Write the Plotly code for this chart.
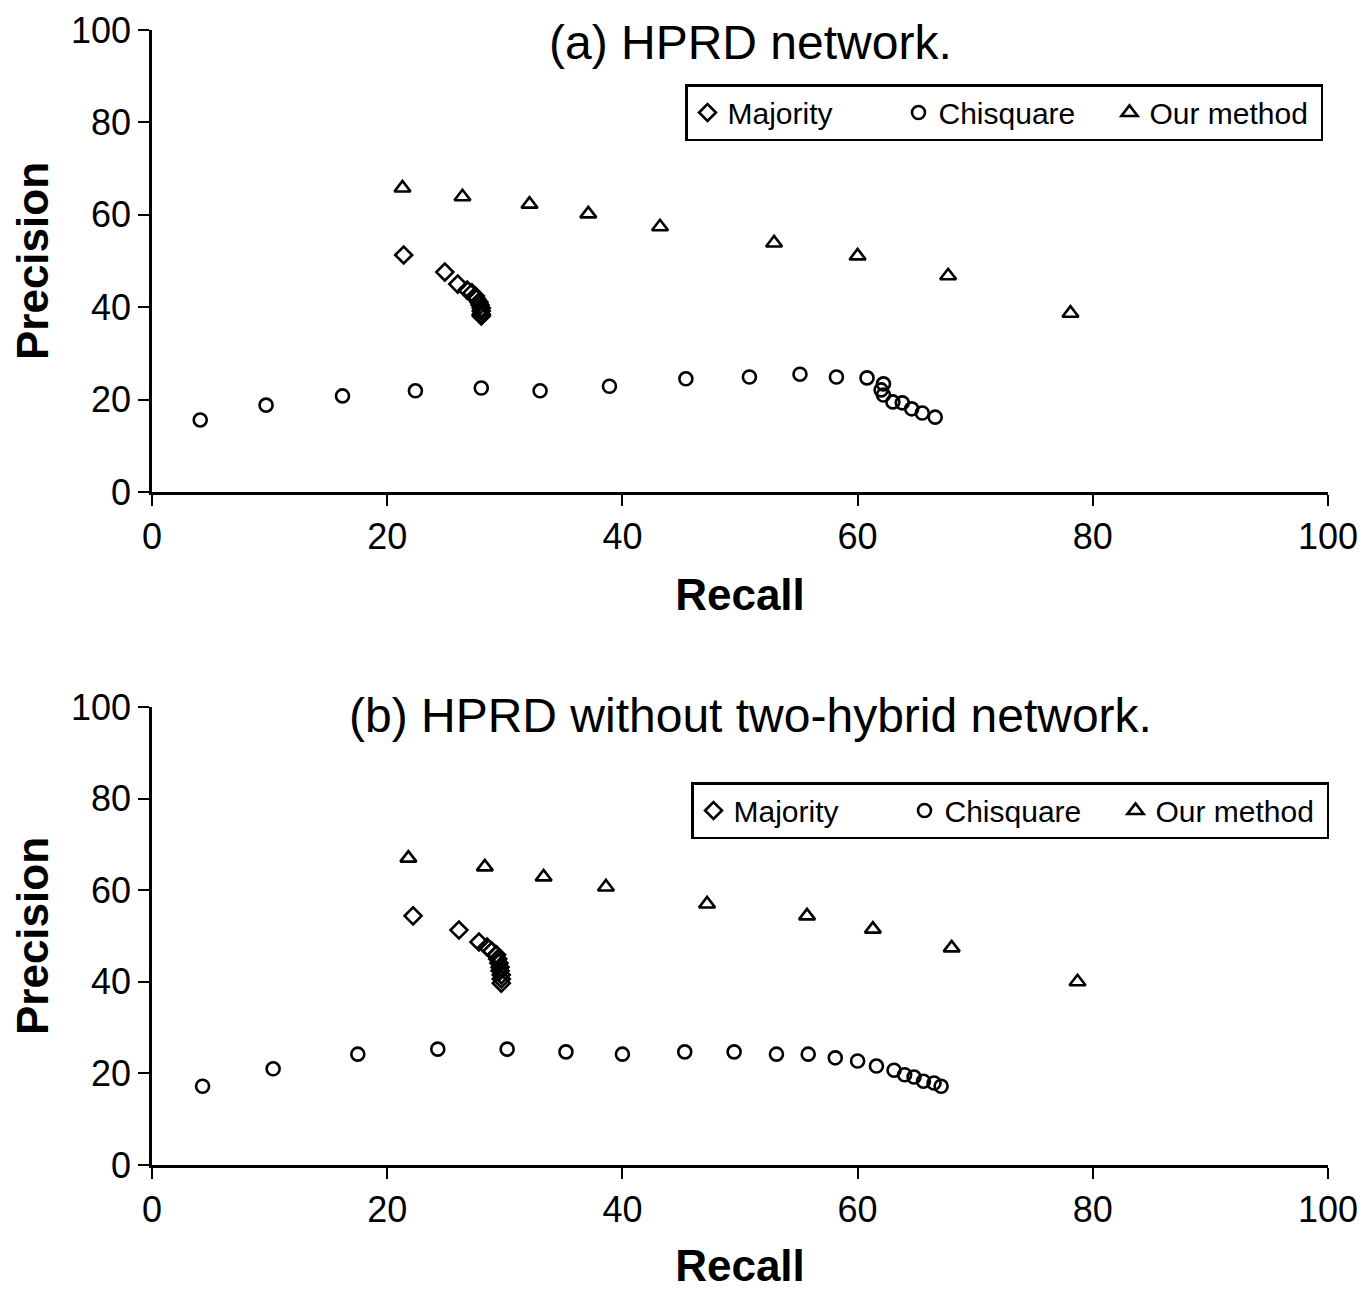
import plotly.graph_objects as go

# Panel (a) HPRD network
a_major_x = [21.4, 24.9, 26.0, 26.8, 27.2, 27.5, 27.6, 27.8, 27.9, 28.0, 28.0, 28.0, 28.0]
a_major_y = [51.3, 47.6, 45.0, 43.7, 43.1, 42.4, 41.8, 41.1, 40.5, 39.8, 39.2, 38.5, 38.1]
a_chi_x = [4.1, 9.7, 16.2, 22.4, 28.0, 33.0, 38.9, 45.4, 50.8, 55.1, 58.2, 60.8, 62.2, 62.0, 62.2, 63.0, 63.8, 64.6, 65.5, 66.6]
a_chi_y = [15.6, 18.8, 20.8, 21.9, 22.5, 21.9, 22.9, 24.5, 24.9, 25.5, 24.9, 24.7, 23.4, 22.1, 21.0, 19.5, 19.3, 18.0, 17.1, 16.2]
a_our_x = [21.3, 26.4, 32.1, 37.1, 43.2, 52.9, 60.0, 67.7, 78.1]
a_our_y = [65.8, 63.9, 62.3, 60.2, 57.4, 53.9, 51.1, 46.8, 38.7]

# Panel (b) HPRD without two-hybrid network
b_major_x = [22.2, 26.1, 27.8, 28.5, 28.9, 29.3, 29.4, 29.5, 29.6, 29.6, 29.7, 29.7, 29.7]
b_major_y = [54.4, 51.3, 48.7, 47.6, 46.7, 45.9, 45.0, 44.1, 43.2, 42.4, 41.5, 40.6, 39.7]
b_chi_x = [4.3, 10.3, 17.5, 24.3, 30.2, 35.2, 40.0, 45.3, 49.5, 53.1, 55.8, 58.1, 60.0, 61.6, 63.1, 64.0, 64.8, 65.6, 66.5, 67.1]
b_chi_y = [17.2, 21.0, 24.2, 25.3, 25.3, 24.7, 24.2, 24.7, 24.7, 24.2, 24.2, 23.4, 22.7, 21.6, 20.7, 19.7, 19.2, 18.3, 17.9, 17.2]
b_our_x = [21.8, 28.3, 33.3, 38.6, 47.2, 55.7, 61.3, 68.0, 78.7]
b_our_y = [67.0, 65.1, 62.9, 60.7, 57.0, 54.4, 51.5, 47.4, 40.0]

series_names = ["Majority", "Chisquare", "Our method"]
symbols = ["diamond-open", "circle-open", "triangle-up-open"]

FONT = "Arial, Liberation Sans, sans-serif"
fig = go.Figure()

panels = [
    ((a_major_x, a_major_y), (a_chi_x, a_chi_y), (a_our_x, a_our_y), "x", "y", "legend"),
    ((b_major_x, b_major_y), (b_chi_x, b_chi_y), (b_our_x, b_our_y), "x2", "y2", "legend2"),
]
for maj, chi, our, xa, ya, leg in panels:
    for (xs, ys), name, sym in zip([maj, chi, our], series_names, symbols):
        fig.add_trace(go.Scatter(
            x=xs, y=ys, mode="markers", name=name, xaxis=xa, yaxis=ya, legend=leg,
            marker=dict(symbol=sym, size=13 if sym != "triangle-up-open" else 14,
                        color="black", line=dict(color="black", width=2.6)),
        ))

# page has an 8px body margin at left/top
OFF = 8
W, H = 1368 - 2 * OFF, 1290 - OFF


def px(x):
    return (x - OFF) / W


def py(y):
    return 1 - (y - OFF) / H


xdom = [px(152), px(1328)]
top_dom = [py(492), py(30)]
bot_dom = [py(1165), py(707)]

axis_common = dict(
    range=[0, 100], dtick=20, showgrid=False, zeroline=False, automargin=False,
    showline=True, linecolor="black", linewidth=2.5,
    ticks="outside", ticklen=11, tickwidth=2, tickcolor="black",
    tickfont=dict(family=FONT, size=36, color="black"),
)
title_font = dict(family=FONT, size=44, color="black", weight="bold")

legend_common = dict(
    orientation="h", xanchor="left", yanchor="top",
    bordercolor="black", borderwidth=2.5, bgcolor="white", entrywidth=166,
    font=dict(family=FONT, size=30, color="black"),
)

fig.update_layout(
    width=W, height=H,
    margin=dict(l=0, r=0, t=0, b=0),
    paper_bgcolor="white", plot_bgcolor="white",
    font=dict(family=FONT, color="black"),
    xaxis=dict(domain=xdom, anchor="y", title=dict(text="Recall", font=title_font, standoff=24), **axis_common),
    yaxis=dict(domain=top_dom, anchor="x", title=dict(text="Precision", font=title_font, standoff=20), **axis_common),
    xaxis2=dict(domain=xdom, anchor="y2", title=dict(text="Recall", font=title_font, standoff=24), **axis_common),
    yaxis2=dict(domain=bot_dom, anchor="x2", title=dict(text="Precision", font=title_font, standoff=20), **axis_common),
    legend=dict(x=px(685), y=py(84), **legend_common),
    legend2=dict(x=px(691), y=py(782), **legend_common),
    annotations=[
        dict(text="(a) HPRD network.", x=px(750), y=py(43), xref="paper", yref="paper",
             xanchor="center", yanchor="middle",
             showarrow=False, font=dict(family=FONT, size=48, color="black")),
        dict(text="(b) HPRD without two-hybrid network.", x=px(750), y=py(716), xref="paper", yref="paper",
             xanchor="center", yanchor="middle",
             showarrow=False, font=dict(family=FONT, size=48, color="black")),
    ],
    showlegend=True,
)

fig.write_html("out.html")
